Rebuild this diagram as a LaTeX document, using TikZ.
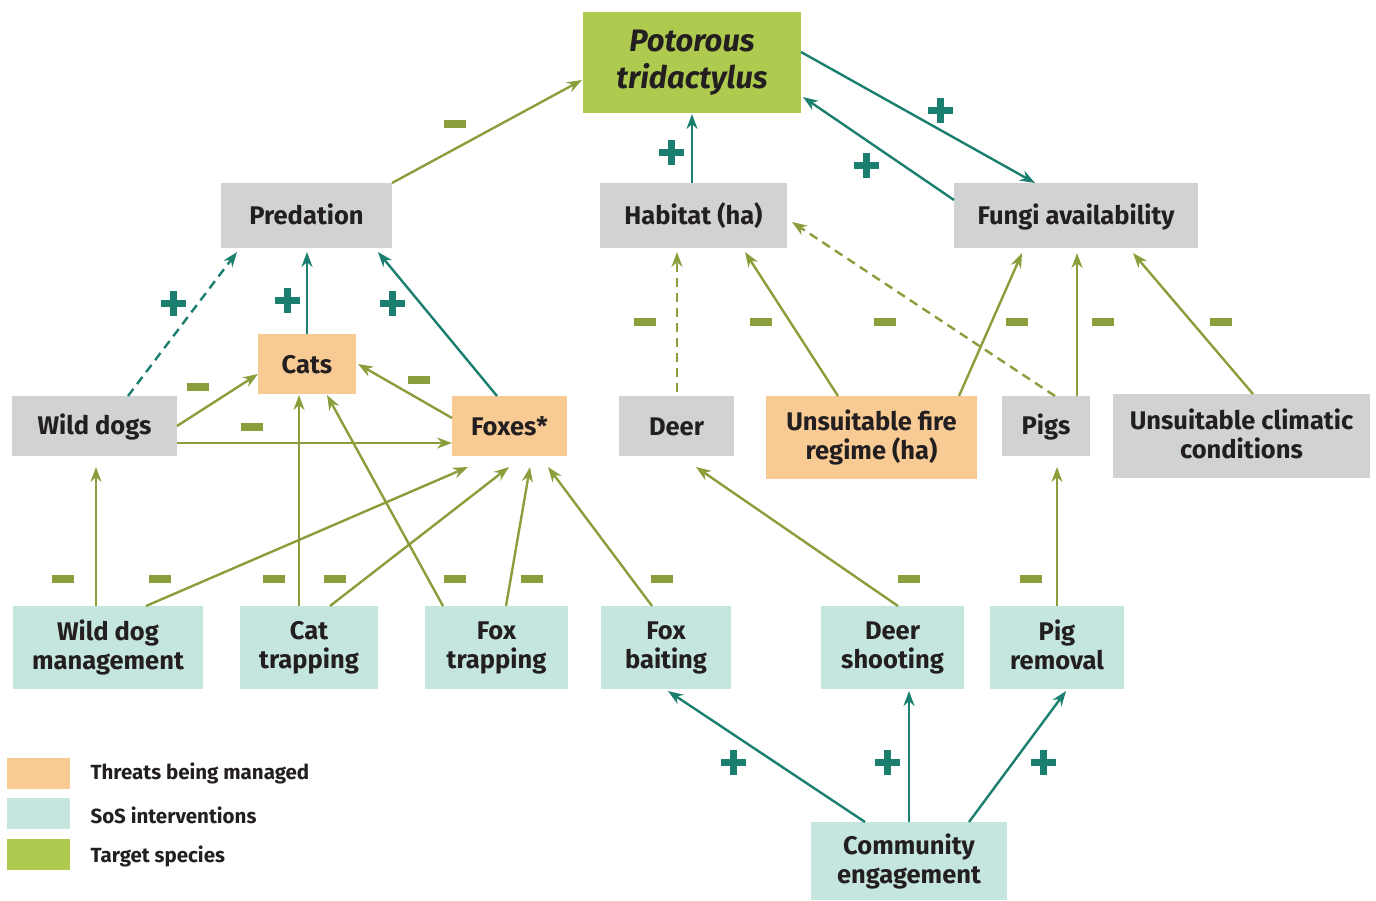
\documentclass[tikz,border=0pt]{standalone}
\usepackage{fontspec}
\setmainfont{Fira Sans}
\usetikzlibrary{arrows.meta,calc}
\definecolor{cOrange}{HTML}{F8CA94}
\definecolor{cTeal}{HTML}{C5E6DF}
\definecolor{cGreen}{HTML}{AFCB4F}
\definecolor{cGray}{HTML}{D1D2D4}
\definecolor{cOlive}{HTML}{8A9E3C}
\definecolor{cDteal}{HTML}{1A7F6E}
\definecolor{cText}{HTML}{231F20}
\newcommand\boxstrut{\rule[-5pt]{0pt}{28pt}}
\tikzset{
  box/.style={anchor=north west, inner sep=0pt, outer sep=0pt, align=center, text=cText,
    font=\bfseries\fontsize{25.5}{29}\selectfont,
    execute at begin node=\boxstrut, execute at end node=\boxstrut},
  graybox/.style={box, fill=cGray},
  orangebox/.style={box, fill=cOrange},
  tealbox/.style={box, fill=cTeal},
  greenbox/.style={box, fill=cGreen},
  negarrow/.style={draw=cOlive, line width=2.4pt, -{Stealth[length=15pt,width=11pt]}},
  posarrow/.style={draw=cDteal, line width=2.4pt, -{Stealth[length=15pt,width=11pt]}},
  plussign/.pic={\fill[cDteal] (-12.5,-3.5) rectangle (12.5,3.5); \fill[cDteal] (-3.5,-12.5) rectangle (3.5,12.5);},
  minussign/.pic={\fill[cOlive] (-11,-4) rectangle (11,4);},
  legtext/.style={anchor=west, text=cText, font=\bfseries\fontsize{20.5}{24}\selectfont}
}
\begin{document}
\begin{tikzpicture}[x=1pt,y=-1pt]
\useasboundingbox (0,0) rectangle (1376,900);
% nodes
\node[greenbox, minimum width=218, minimum height=101, font=\bfseries\itshape\fontsize{31}{37}\selectfont] (pot) at (583,12) {Potorous\\tridactylus};
\node[graybox, minimum width=171, minimum height=65] (pred) at (221,183) {Predation};
\node[graybox, minimum width=187, minimum height=65] (hab) at (600,183) {Habitat (ha)};
\node[graybox, minimum width=244, minimum height=65] (fungi) at (954,183) {Fungi availability};
\node[orangebox, minimum width=98, minimum height=60] (cats) at (258,334) {Cats};
\node[graybox, minimum width=165, minimum height=60] (wd) at (12,396) {Wild dogs};
\node[orangebox, minimum width=115, minimum height=60] (fox) at (452,396) {Foxes*};
\node[graybox, minimum width=115, minimum height=60] (deer) at (619,396) {Deer};
\node[orangebox, minimum width=211, minimum height=83] (fr) at (766,396) {Unsuitable fire\\regime (ha)};
\node[graybox, minimum width=88, minimum height=60] (pigs) at (1002,396) {Pigs};
\node[graybox, minimum width=257, minimum height=84] (clim) at (1113,394) {Unsuitable climatic\\conditions};
\node[tealbox, minimum width=190, minimum height=83] (wdm) at (13,606) {Wild dog\\management};
\node[tealbox, minimum width=138, minimum height=83] (ct) at (240,606) {Cat\\trapping};
\node[tealbox, minimum width=143, minimum height=83] (ft) at (425,606) {Fox\\trapping};
\node[tealbox, minimum width=130, minimum height=83] (fb) at (601,606) {Fox\\baiting};
\node[tealbox, minimum width=143, minimum height=83] (ds) at (821,606) {Deer\\shooting};
\node[tealbox, minimum width=134, minimum height=83] (pr) at (990,606) {Pig\\removal};
\node[tealbox, minimum width=196, minimum height=78] (ce) at (811,822) {Community\\engagement};
% legend
\node[fill=cOrange, minimum width=63, minimum height=31, inner sep=0pt, anchor=north west] (lg1) at (7,758) {};
\node[fill=cTeal, minimum width=63, minimum height=31, inner sep=0pt, anchor=north west] (lg2) at (7,798) {};
\node[fill=cGreen, minimum width=63, minimum height=31, inner sep=0pt, anchor=north west] (lg3) at (7,839) {};
\node[legtext] (lt1) at (87,773.5) {Threats being managed};
\node[legtext] (lt2) at (87,815.5) {SoS interventions};
\node[legtext] (lt3) at (87,856.5) {Target species};
% connectors
\draw[negarrow] (pred.north east) -- ($(pot.north west)+(-1,68)$);
\draw[posarrow] ($(hab.north west)+(92,0)$) -- ($(pot.north west)+(109,102)$);
\draw[posarrow] ($(pot.north east)+(0,40)$) -- ($(fungi.north west)+(81,0)$);
\draw[posarrow] ($(fungi.north west)+(0,17)$) -- ($(pot.north east)+(2,85)$);
\draw[posarrow, dash pattern=on 9pt off 6pt] ($(wd.north west)+(116,0)$) -- ($(pred.north west)+(16,69)$);
\draw[posarrow] ($(cats.north west)+(49,0)$) -- ($(pred.north west)+(86,69)$);
\draw[posarrow] ($(fox.north west)+(45,0)$) -- ($(pred.north west)+(157,69)$);
\draw[negarrow] ($(wd.north west)+(165,30)$) -- ($(cats.north west)+(0,40)$);
\draw[negarrow] ($(fox.north west)+(0,22)$) -- ($(cats.north east)+(2,30)$);
\draw[negarrow] ($(wd.north west)+(165,47)$) -- ($(fox.north west)+(0,47)$);
\draw[negarrow, dash pattern=on 9pt off 6pt] ($(deer.north west)+(58,-4)$) -- ($(hab.north west)+(77,69)$);
\draw[negarrow] ($(fr.north west)+(72,0)$) -- ($(hab.north west)+(145,69)$);
\draw[negarrow, dash pattern=on 9pt off 6pt] ($(pigs.north west)+(53,0)$) -- ($(hab.north east)+(5,39)$);
\draw[negarrow] ($(fr.north west)+(193,0)$) -- ($(fungi.north west)+(68,70)$);
\draw[negarrow] ($(pigs.north west)+(75,0)$) -- ($(fungi.north west)+(123,70)$);
\draw[negarrow] ($(clim.north west)+(140,0)$) -- ($(fungi.north west)+(179,70)$);
\draw[negarrow] ($(wdm.north west)+(83,0)$) -- ($(wd.north west)+(84,71)$);
\draw[negarrow] ($(wdm.north west)+(133,0)$) -- ($(fox.north west)+(16,71)$);
\draw[negarrow] ($(ct.north west)+(59,0)$) -- ($(cats.north west)+(41,61)$);
\draw[negarrow] ($(ct.north west)+(90,0)$) -- ($(fox.north west)+(57,71)$);
\draw[negarrow] ($(ft.north west)+(18,0)$) -- ($(cats.north west)+(69,61)$);
\draw[negarrow] ($(ft.north west)+(81,0)$) -- ($(fox.north west)+(78,71)$);
\draw[negarrow] ($(fb.north west)+(51,0)$) -- ($(fox.north west)+(96,71)$);
\draw[negarrow] ($(ds.north west)+(77,0)$) -- ($(deer.north west)+(77,71)$);
\draw[negarrow] ($(pr.north west)+(67,0)$) -- ($(pigs.north west)+(55,71)$);
\draw[posarrow] ($(ce.north west)+(54,0)$) -- ($(fb.north west)+(67,85)$);
\draw[posarrow] ($(ce.north west)+(98,0)$) -- ($(ds.north west)+(88,85)$);
\draw[posarrow] ($(ce.north west)+(158,0)$) -- ($(pr.north west)+(76,85)$);
% signs
\pic at (455,124) {minussign};
\pic at (671,152) {plussign};
\pic at (940,110) {plussign};
\pic at (866,165) {plussign};
\pic at (173,303) {plussign};
\pic at (287,300) {plussign};
\pic at (392,303) {plussign};
\pic at (198,387) {minussign};
\pic at (419,380) {minussign};
\pic at (252,427) {minussign};
\pic at (645,322) {minussign};
\pic at (761,322) {minussign};
\pic at (885,322) {minussign};
\pic at (1017,322) {minussign};
\pic at (1103,322) {minussign};
\pic at (1221,322) {minussign};
\pic at (63,579) {minussign};
\pic at (160,579) {minussign};
\pic at (274,579) {minussign};
\pic at (335,579) {minussign};
\pic at (455,579) {minussign};
\pic at (532,579) {minussign};
\pic at (662,579) {minussign};
\pic at (909,579) {minussign};
\pic at (1031,579) {minussign};
\pic at (733,762) {plussign};
\pic at (887,762) {plussign};
\pic at (1043,762) {plussign};
\end{tikzpicture}
\end{document}
